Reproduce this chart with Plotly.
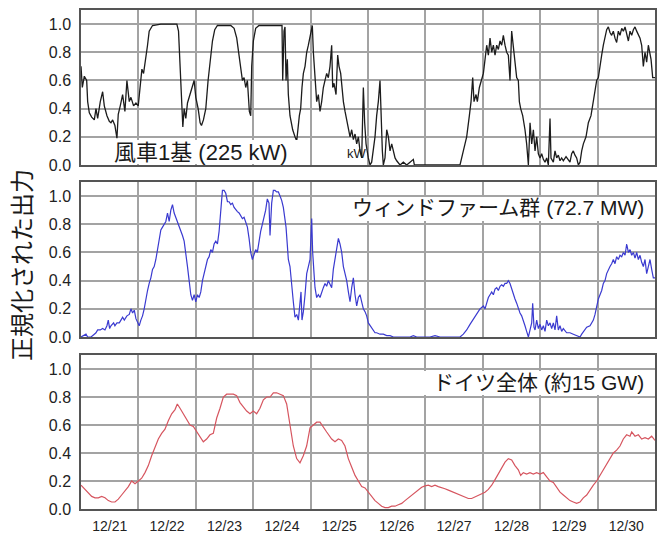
import pandas as pd
import plotly.graph_objects as go

# ---------------- data (x = days since 12/21 00:00, y = normalised output) ----------------
turbine_days = [0.0, 0.023, 0.058, 0.099, 0.116, 0.145, 0.186, 0.232, 0.261, 0.29, 0.336, 0.377, 0.406, 0.452, 0.493,
                0.522, 0.551, 0.591, 0.626, 0.649, 0.684, 0.725, 0.765, 0.8, 0.841, 0.87, 0.916, 0.957, 0.997, 1.032,
                1.061, 1.09, 1.13, 1.159, 1.188, 1.246, 1.391, 1.67, 1.699, 1.728, 1.751, 1.774, 1.797, 1.826, 1.855,
                1.901, 1.942, 1.971, 2.0, 2.041, 2.075, 2.099, 2.133, 2.174, 2.214, 2.249, 2.29, 2.33, 2.377, 2.609,
                2.667, 2.713, 2.754, 2.783, 2.812, 2.841, 2.87, 2.899, 2.933, 2.957, 2.974, 3.003, 3.043, 3.101, 3.293,
                3.502, 3.514, 3.537, 3.554, 3.572, 3.595, 3.612, 3.641, 3.688, 3.728, 3.758, 3.804, 3.827, 3.85, 3.874,
                3.903, 3.932, 3.961, 3.99, 4.03, 4.048, 4.077, 4.106, 4.135, 4.164, 4.193, 4.222, 4.251, 4.28, 4.309,
                4.338, 4.367, 4.385, 4.408, 4.443, 4.472, 4.495, 4.524, 4.542, 4.571, 4.6, 4.629, 4.658, 4.687, 4.716,
                4.745, 4.774, 4.803, 4.832, 4.861, 4.89, 4.919, 4.942, 4.966, 5.006, 5.035, 5.064, 5.093, 5.122, 5.151,
                5.18, 5.209, 5.227, 5.25, 5.267, 5.296, 5.326, 5.355, 5.384, 5.413, 5.442, 5.471, 5.5, 5.558, 5.616,
                5.674, 5.732, 5.79, 5.808, 6.2, 6.603, 6.661, 6.719, 6.766, 6.795, 6.824, 6.847, 6.882, 6.905, 6.94,
                6.975, 7.01, 7.039, 7.068, 7.097, 7.126, 7.155, 7.184, 7.213, 7.242, 7.271, 7.3, 7.329, 7.358, 7.387,
                7.416, 7.445, 7.474, 7.503, 7.532, 7.561, 7.59, 7.619, 7.637, 7.66, 7.695, 7.735, 7.764, 7.794, 7.823,
                7.852, 7.881, 7.91, 7.939, 7.968, 7.997, 8.026, 8.055, 8.084, 8.113, 8.142, 8.171, 8.188, 8.229, 8.258,
                8.287, 8.316, 8.345, 8.374, 8.403, 8.45, 8.49, 8.519, 8.548, 8.577, 8.606, 8.635, 8.665, 8.694, 8.723,
                8.752, 8.798, 8.839, 8.885, 8.926, 8.955, 8.984, 9.013, 9.042, 9.071, 9.1, 9.129, 9.158, 9.187, 9.216,
                9.245, 9.274, 9.303, 9.332, 9.361, 9.39, 9.42, 9.449, 9.478, 9.507, 9.536, 9.565, 9.594, 9.623, 9.652,
                9.681, 9.71, 9.739, 9.768, 9.797, 9.826, 9.855, 9.884, 9.913, 9.931, 9.96, 10.0]
turbine_vals = [0.70, 0.55, 0.63, 0.60, 0.45, 0.37, 0.34, 0.32, 0.40, 0.33, 0.45, 0.52, 0.42, 0.35, 0.31,
                0.30, 0.32, 0.28, 0.19, 0.36, 0.42, 0.50, 0.38, 0.60, 0.45, 0.48, 0.42, 0.44, 0.42, 0.55,
                0.68, 0.65, 0.75, 0.85, 0.95, 0.99, 1.0, 1.0, 0.95, 0.70, 0.45, 0.27, 0.40, 0.33, 0.44,
                0.50, 0.56, 0.60, 0.48, 0.40, 0.30, 0.28, 0.32, 0.40, 0.60, 0.75, 0.88, 0.96, 0.99, 0.99,
                0.97, 0.90, 0.78, 0.70, 0.60, 0.62, 0.55, 0.60, 0.38, 0.35, 0.70, 0.88, 0.97, 0.99, 0.99,
                0.99, 0.60, 0.95, 0.98, 0.60, 0.75, 0.50, 0.35, 0.25, 0.20, 0.17, 0.35, 0.40, 0.55, 0.65,
                0.70, 0.80, 0.85, 0.92, 0.99, 0.80, 0.60, 0.45, 0.50, 0.38, 0.45, 0.55, 0.60, 0.65, 0.62,
                0.70, 0.85, 0.55, 0.58, 0.50, 0.78, 0.70, 0.65, 0.55, 0.45, 0.38, 0.32, 0.25, 0.20, 0.25,
                0.18, 0.22, 0.15, 0.20, 0.10, 0.05, 0.55, 0.30, 0.15, 0.05, 0.0, 0.02, 0.10, 0.20, 0.35,
                0.45, 0.60, 0.30, 0.10, 0.0, 0.05, 0.25, 0.20, 0.10, 0.15, 0.10, 0.05, 0.03, 0.0, 0.02,
                0.0, 0.02, 0.04, 0.0, 0.0, 0.0, 0.10, 0.20, 0.35, 0.45, 0.62, 0.45, 0.50, 0.45, 0.55,
                0.60, 0.65, 0.75, 0.85, 0.78, 0.90, 0.80, 0.85, 0.78, 0.85, 0.82, 0.88, 0.85, 0.92, 0.85,
                0.80, 0.78, 0.60, 0.95, 0.85, 0.75, 0.62, 0.60, 0.45, 0.40, 0.35, 0.25, 0.15, 0.0, 0.30,
                0.15, 0.25, 0.10, 0.20, 0.08, 0.05, 0.08, 0.04, 0.02, 0.05, 0.0, 0.33, 0.05, 0.02, 0.10,
                0.05, 0.07, 0.03, 0.05, 0.03, 0.06, 0.04, 0.02, 0.08, 0.10, 0.07, 0.05, 0.0, 0.02, 0.10,
                0.15, 0.20, 0.30, 0.35, 0.45, 0.55, 0.60, 0.62, 0.72, 0.78, 0.85, 0.92, 0.96, 0.98, 0.94,
                0.92, 0.95, 0.90, 0.87, 0.95, 0.92, 0.97, 0.95, 0.98, 0.92, 0.88, 0.95, 0.92, 0.96, 0.98,
                0.95, 0.92, 0.90, 0.85, 0.70, 0.80, 0.73, 0.85, 0.80, 0.75, 0.62, 0.62]

farm_days = [0.0, 0.058, 0.087, 0.116, 0.174, 0.232, 0.261, 0.29, 0.336, 0.377, 0.417, 0.452, 0.475, 0.499, 0.522,
             0.568, 0.591, 0.626, 0.667, 0.696, 0.725, 0.754, 0.8, 0.841, 0.87, 0.899, 0.928, 0.957, 0.986, 1.014,
             1.043, 1.072, 1.101, 1.13, 1.159, 1.188, 1.217, 1.246, 1.275, 1.304, 1.333, 1.362, 1.391, 1.42, 1.449,
             1.478, 1.507, 1.536, 1.565, 1.594, 1.623, 1.652, 1.681, 1.71, 1.739, 1.768, 1.797, 1.826, 1.855, 1.884,
             1.913, 1.942, 1.971, 2.0, 2.029, 2.058, 2.087, 2.116, 2.145, 2.174, 2.203, 2.232, 2.261, 2.29, 2.319,
             2.348, 2.377, 2.406, 2.435, 2.464, 2.493, 2.522, 2.551, 2.58, 2.609, 2.638, 2.667, 2.696, 2.725, 2.754,
             2.783, 2.812, 2.841, 2.87, 2.899, 2.928, 2.957, 2.986, 3.014, 3.043, 3.072, 3.101, 3.13, 3.159, 3.188,
             3.217, 3.246, 3.275, 3.293, 3.322, 3.351, 3.38, 3.409, 3.438, 3.467, 3.496, 3.525, 3.554, 3.572, 3.595,
             3.612, 3.641, 3.67, 3.699, 3.728, 3.758, 3.787, 3.816, 3.833, 3.85, 3.874, 3.903, 3.932, 3.961, 3.99,
             4.019, 4.036, 4.06, 4.077, 4.106, 4.135, 4.164, 4.193, 4.222, 4.251, 4.28, 4.309, 4.338, 4.367, 4.396,
             4.425, 4.454, 4.484, 4.512, 4.542, 4.571, 4.6, 4.629, 4.658, 4.687, 4.716, 4.745, 4.774, 4.803, 4.832,
             4.861, 4.89, 4.919, 4.948, 4.977, 5.006, 5.035, 5.064, 5.093, 5.122, 5.151, 5.209, 5.267, 5.326, 5.384,
             5.442, 5.5, 5.616, 5.732, 5.79, 5.848, 5.964, 6.08, 6.168, 6.255, 6.371, 6.545, 6.603, 6.661, 6.719,
             6.777, 6.835, 6.893, 6.951, 7.01, 7.039, 7.068, 7.097, 7.126, 7.155, 7.184, 7.213, 7.242, 7.271, 7.3,
             7.329, 7.358, 7.387, 7.416, 7.445, 7.474, 7.503, 7.532, 7.561, 7.59, 7.619, 7.648, 7.677, 7.706, 7.735,
             7.764, 7.794, 7.823, 7.852, 7.869, 7.892, 7.91, 7.939, 7.968, 7.997, 8.026, 8.055, 8.084, 8.113, 8.142,
             8.171, 8.2, 8.229, 8.258, 8.287, 8.316, 8.345, 8.374, 8.403, 8.461, 8.519, 8.577, 8.635, 8.694, 8.723,
             8.752, 8.781, 8.81, 8.868, 8.926, 8.955, 8.984, 9.013, 9.042, 9.071, 9.1, 9.129, 9.158, 9.187, 9.216,
             9.245, 9.274, 9.303, 9.332, 9.361, 9.39, 9.42, 9.449, 9.478, 9.507, 9.536, 9.565, 9.594, 9.623, 9.652,
             9.681, 9.71, 9.739, 9.768, 9.797, 9.826, 9.855, 9.884, 9.913, 9.942, 9.971, 10.0]
farm_vals = [0.0, 0.01, 0.02, 0.0, 0.0, 0.02, 0.03, 0.05, 0.05, 0.06, 0.05, 0.08, 0.12, 0.06, 0.08,
             0.10, 0.08, 0.10, 0.10, 0.12, 0.14, 0.12, 0.15, 0.16, 0.20, 0.17, 0.19, 0.13, 0.10, 0.08,
             0.12, 0.15, 0.20, 0.28, 0.33, 0.38, 0.42, 0.48, 0.50, 0.55, 0.62, 0.72, 0.76, 0.78, 0.80,
             0.82, 0.88, 0.82, 0.90, 0.94, 0.88, 0.85, 0.82, 0.78, 0.75, 0.72, 0.68, 0.60, 0.50, 0.40,
             0.30, 0.26, 0.30, 0.25, 0.30, 0.28, 0.32, 0.40, 0.45, 0.50, 0.55, 0.57, 0.62, 0.60, 0.66,
             0.68, 0.66, 0.75, 0.92, 1.04, 1.04, 1.02, 0.96, 0.96, 0.94, 0.95, 0.92, 0.90, 0.89, 0.88,
             0.86, 0.84, 0.85, 0.82, 0.78, 0.70, 0.60, 0.55, 0.58, 0.62, 0.60, 0.68, 0.75, 0.80, 0.85,
             0.90, 0.98, 0.95, 0.72, 0.95, 1.04, 1.04, 1.03, 1.03, 1.0, 0.97, 0.92, 0.85, 0.78, 0.65,
             0.55, 0.50, 0.35, 0.25, 0.14, 0.16, 0.12, 0.22, 0.32, 0.12, 0.18, 0.30, 0.45, 0.50, 0.55,
             0.84, 0.60, 0.45, 0.35, 0.28, 0.30, 0.28, 0.32, 0.35, 0.38, 0.36, 0.40, 0.38, 0.35, 0.48,
             0.55, 0.60, 0.70, 0.66, 0.60, 0.50, 0.45, 0.40, 0.32, 0.25, 0.35, 0.42, 0.30, 0.22, 0.28,
             0.30, 0.25, 0.20, 0.18, 0.15, 0.10, 0.08, 0.06, 0.05, 0.03, 0.03, 0.02, 0.02, 0.01, 0.01,
             0.0, 0.0, 0.0, 0.0, 0.01, 0.0, 0.0, 0.0, 0.01, 0.0, 0.0, 0.0, 0.0, 0.02, 0.05,
             0.09, 0.13, 0.16, 0.20, 0.22, 0.20, 0.24, 0.28, 0.30, 0.32, 0.30, 0.34, 0.35, 0.33, 0.36,
             0.37, 0.36, 0.38, 0.38, 0.40, 0.38, 0.34, 0.30, 0.27, 0.24, 0.20, 0.17, 0.15, 0.12, 0.08,
             0.04, 0.0, 0.05, 0.10, 0.24, 0.07, 0.05, 0.12, 0.06, 0.09, 0.05, 0.08, 0.04, 0.12, 0.08,
             0.10, 0.06, 0.10, 0.05, 0.15, 0.05, 0.08, 0.04, 0.06, 0.03, 0.03, 0.02, 0.01, 0.0, 0.02,
             0.04, 0.06, 0.07, 0.08, 0.12, 0.16, 0.22, 0.27, 0.30, 0.33, 0.38, 0.40, 0.45, 0.48, 0.50,
             0.52, 0.55, 0.52, 0.57, 0.55, 0.58, 0.57, 0.60, 0.58, 0.66, 0.60, 0.62, 0.58, 0.60, 0.56,
             0.60, 0.55, 0.58, 0.53, 0.50, 0.55, 0.45, 0.50, 0.55, 0.48, 0.42, 0.42]

germany_days = [0.0, 0.07, 0.128, 0.186, 0.244, 0.302, 0.36, 0.418, 0.476, 0.534, 0.592, 0.65, 0.708, 0.767, 0.825,
                0.883, 0.941, 0.999, 1.057, 1.115, 1.173, 1.231, 1.289, 1.347, 1.405, 1.463, 1.521, 1.58, 1.638, 1.678,
                1.725, 1.783, 1.841, 1.899, 1.957, 2.015, 2.073, 2.131, 2.189, 2.247, 2.305, 2.364, 2.422, 2.48, 2.538,
                2.596, 2.654, 2.712, 2.77, 2.828, 2.886, 2.944, 3.002, 3.06, 3.118, 3.177, 3.235, 3.293, 3.351, 3.409,
                3.467, 3.525, 3.583, 3.641, 3.699, 3.757, 3.815, 3.873, 3.931, 3.99, 4.048, 4.106, 4.164, 4.222, 4.28,
                4.367, 4.425, 4.483, 4.541, 4.599, 4.657, 4.715, 4.774, 4.832, 4.89, 4.948, 5.006, 5.064, 5.122, 5.18,
                5.238, 5.296, 5.354, 5.412, 5.47, 5.528, 5.587, 5.645, 5.703, 5.761, 5.819, 5.877, 5.935, 5.993, 6.051,
                6.109, 6.167, 6.225, 6.283, 6.341, 6.4, 6.458, 6.516, 6.574, 6.632, 6.69, 6.748, 6.806, 6.864, 6.922,
                6.98, 7.038, 7.096, 7.155, 7.213, 7.271, 7.329, 7.387, 7.445, 7.503, 7.561, 7.619, 7.66, 7.706, 7.764,
                7.822, 7.88, 7.938, 7.997, 8.055, 8.113, 8.171, 8.229, 8.287, 8.345, 8.403, 8.461, 8.519, 8.577, 8.635,
                8.693, 8.751, 8.81, 8.868, 8.926, 8.984, 9.042, 9.1, 9.158, 9.216, 9.274, 9.332, 9.39, 9.448, 9.506,
                9.564, 9.594, 9.652, 9.71, 9.768, 9.826, 9.884, 9.942, 10.0]
germany_vals = [0.17, 0.14, 0.11, 0.09, 0.08, 0.08, 0.09, 0.08, 0.06, 0.05, 0.05, 0.07, 0.10, 0.13, 0.16,
                0.20, 0.18, 0.20, 0.22, 0.26, 0.31, 0.38, 0.44, 0.50, 0.54, 0.57, 0.63, 0.68, 0.71, 0.75,
                0.72, 0.68, 0.63, 0.60, 0.59, 0.55, 0.51, 0.48, 0.50, 0.53, 0.54, 0.65, 0.72, 0.80, 0.82,
                0.82, 0.82, 0.81, 0.76, 0.73, 0.70, 0.68, 0.70, 0.68, 0.72, 0.78, 0.80, 0.80, 0.83, 0.83,
                0.82, 0.81, 0.75, 0.60, 0.45, 0.36, 0.33, 0.38, 0.45, 0.58, 0.60, 0.62, 0.62, 0.58, 0.55,
                0.50, 0.48, 0.50, 0.49, 0.45, 0.36, 0.30, 0.24, 0.20, 0.16, 0.15, 0.12, 0.09, 0.06, 0.04,
                0.02, 0.01, 0.01, 0.02, 0.02, 0.03, 0.04, 0.06, 0.08, 0.10, 0.12, 0.14, 0.155, 0.165, 0.17,
                0.16, 0.17, 0.16, 0.155, 0.145, 0.135, 0.125, 0.115, 0.105, 0.095, 0.085, 0.075, 0.075, 0.085, 0.095,
                0.105, 0.12, 0.14, 0.17, 0.21, 0.255, 0.30, 0.335, 0.36, 0.35, 0.31, 0.28, 0.24, 0.26, 0.25,
                0.26, 0.25, 0.26, 0.25, 0.26, 0.23, 0.20, 0.19, 0.15, 0.12, 0.10, 0.08, 0.06, 0.05, 0.04,
                0.05, 0.08, 0.10, 0.14, 0.17, 0.20, 0.24, 0.28, 0.31, 0.36, 0.40, 0.42, 0.45, 0.50, 0.53,
                0.52, 0.55, 0.52, 0.53, 0.50, 0.51, 0.50, 0.52, 0.49]

date_labels_format = "%m/%d"
y_ticks = [0.0, 0.2, 0.4, 0.6, 0.8, 1.0]
panel_labels = ["風車1基 (225 kW)", "ウィンドファーム群 (72.7 MW)", "ドイツ全体 (約15 GW)"]
y_title = "正規化された出力"

# ---------------- figure ----------------
base = pd.Timestamp("2012-12-21")
def to_dates(days):
    return base + pd.to_timedelta(days, unit="D")

W, H = 664, 535
ml, mr, mt, mb = 81, 9, 10, 26
pw, ph = W - ml - mr, H - mt - mb

def py(p):  # pixel y -> paper
    return (H - mb - p) / ph
def px(p):  # pixel x -> paper
    return (p - ml) / pw

fig = go.Figure()
series = [(turbine_days, turbine_vals, "#1c1c1c", 1.3),
          (farm_days, farm_vals, "#3a3ad0", 1.2),
          (germany_days, germany_vals, "#d6555f", 1.2)]
for i, (d, v, c, w) in enumerate(series):
    sfx = "" if i == 0 else str(i + 1)
    fig.add_trace(go.Scatter(x=to_dates(d), y=v, mode="lines", line=dict(color=c, width=w),
                             xaxis="x" + sfx, yaxis="y" + sfx, showlegend=False, hoverinfo="skip"))

domains = [(py(165), py(10)), (py(337), py(182)), (py(509), py(355))]
font_tick = dict(family="Liberation Sans, Arial, sans-serif", size=16, color="#222")
for i in range(3):
    sfx = "" if i == 0 else str(i + 1)
    fig.update_layout(**{
        "xaxis" + sfx: dict(type="date", range=[base, base + pd.Timedelta(days=10)],
                            domain=[0, 1], anchor="y" + sfx, automargin=False,
                            tick0=base, dtick=86400000, ticklabelmode="period",
                            tickformat=date_labels_format, showticklabels=(i == 2),
                            ticks="outside" if i == 2 else "", ticklen=3, tickcolor="rgba(0,0,0,0)",
                            tickfont=dict(family="Liberation Sans, Arial, sans-serif", size=14, color="#222"),
                            showgrid=True, gridcolor="#a3a3a3", gridwidth=1.5,
                            showline=True, mirror=True, linecolor="#555", linewidth=1.5,
                            zeroline=False, fixedrange=True),
        "yaxis" + sfx: dict(range=[0, 1.1], domain=list(domains[i]), anchor="x" + sfx, automargin=False,
                            tickvals=y_ticks, tickformat=".1f", tickfont=font_tick,
                            ticks="outside", ticklen=5, tickcolor="rgba(0,0,0,0)",
                            showgrid=True, gridcolor="#a3a3a3", gridwidth=1.5,
                            showline=True, mirror=True, linecolor="#555", linewidth=1.5,
                            zeroline=False, fixedrange=True),
    })

# white label boxes
boxes = [(108, 300, 140, 164), (345, 654, 197, 221), (393, 654, 371, 395)]
for x0, x1, y0, y1 in boxes:
    fig.add_shape(type="rect", xref="paper", yref="paper", x0=px(x0), x1=px(x1), y0=py(y1), y1=py(y0),
                  fillcolor="white", line=dict(width=0), layer="above")

lab_font = dict(family="Liberation Sans, Noto Sans CJK JP, sans-serif", size=21, color="#1a1a1a")
fig.add_annotation(text=panel_labels[0], xref="paper", yref="paper", x=px(201), y=py(153),
                   xanchor="center", yanchor="middle", showarrow=False,
                   font=dict(family="Liberation Sans, Noto Sans CJK JP, sans-serif", size=22, color="#1a1a1a"))
fig.add_annotation(text="kW", xref="paper", yref="paper", x=px(357), y=py(154),
                   xanchor="center", yanchor="middle", showarrow=False,
                   font=dict(family="Liberation Sans, sans-serif", size=13, color="#1a1a1a"))
fig.add_annotation(text=panel_labels[1], xref="paper", yref="paper", x=px(646), y=py(208),
                   xanchor="right", yanchor="middle", showarrow=False, font=lab_font)
fig.add_annotation(text=panel_labels[2], xref="paper", yref="paper", x=px(646), y=py(382),
                   xanchor="right", yanchor="middle", showarrow=False, font=lab_font)
fig.add_annotation(text=y_title, xref="paper", yref="paper", x=px(20), y=py(265),
                   xanchor="center", yanchor="middle", textangle=-90, showarrow=False,
                   font=dict(family="Noto Sans CJK JP, sans-serif", size=24, color="#1a1a1a"))

fig.update_layout(width=W, height=H, margin=dict(l=ml, r=mr, t=mt, b=mb, autoexpand=False),
                  paper_bgcolor="white", plot_bgcolor="white")
fig.write_html("out.html", config={"displayModeBar": False},
               post_script="document.body.style.margin='0';document.body.style.overflow='hidden';")
